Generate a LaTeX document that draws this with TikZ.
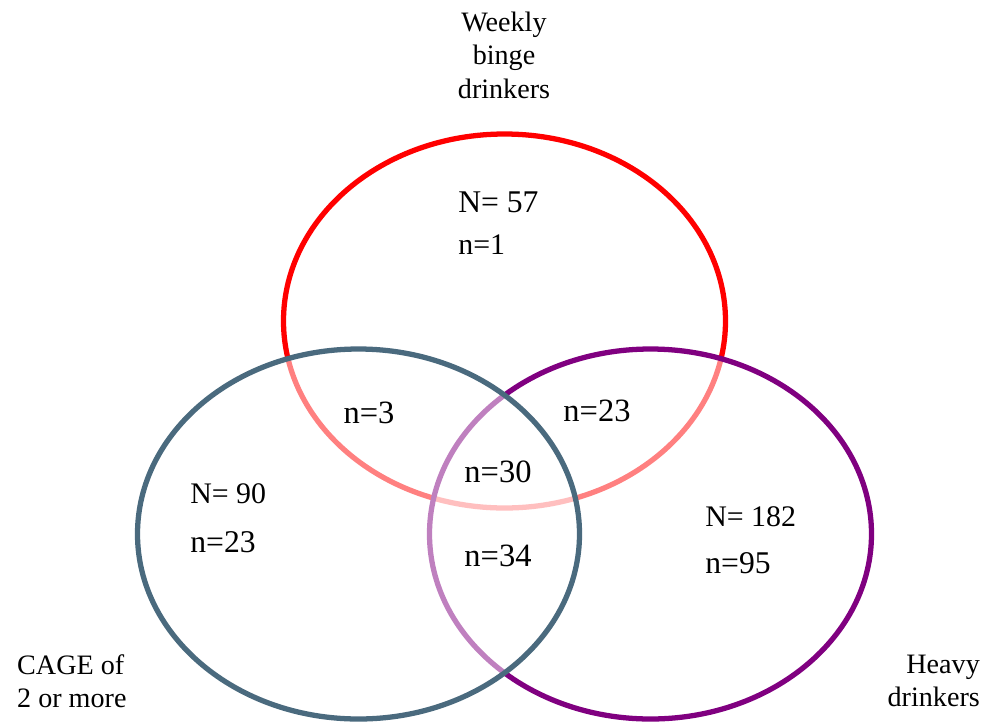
\documentclass[tikz,border=0pt]{standalone}
\usepackage{fontspec}
\setmainfont{Liberation Serif}
\usetikzlibrary{positioning}
\definecolor{bingered}{HTML}{FF0000}
\definecolor{cageblue}{HTML}{4A6A7E}
\definecolor{heavypurple}{HTML}{800080}

\begin{document}
\begin{tikzpicture}[
        x=0.02cm, y=-0.02cm,
        set/.style={line width=3pt, fill=white, fill opacity=0.5, draw opacity=1},
        title/.style={font=\fontsize{16}{19}\selectfont, align=center},
        count/.style={font=\fontsize{17}{20}\selectfont, anchor=west, inner sep=0pt},
        big/.style={font=\fontsize{18}{20}\selectfont, anchor=west, inner sep=0pt},
        cell/.style={font=\fontsize{18.5}{20}\selectfont, inner sep=0pt}
      ]
        \useasboundingbox (0,0) rectangle (987,724);

        % the three sets, bottom to top
        \draw[set, draw=bingered] (504.5,321) ellipse [x radius=221, y radius=187];
        \draw[set, draw=heavypurple] (650.5,534) ellipse [x radius=221, y radius=185];
        \draw[set, draw=cageblue] (358.5,534) ellipse [x radius=221, y radius=185];

        % set titles
        \node[title] (binge) at (504,55) {Weekly\\binge\\drinkers};
        \node[title, align=left, anchor=west] (cage) at (11,681) {CAGE of\\2 or more};
        \node[title, align=right, anchor=east] (heavy) at (986,681) {Heavy\\drinkers};

        % totals and counts
        \node[big] (bingeN) at (458,202) {N= 57};
        \node[count] (bingen) at (458,245) {n=1};
        \node[count] (cageN) at (190,494) {N= 90};
        \node[big] (cagen) at (190,542) {n=23};
        \node[count] (heavyN) at (705,517) {N= 182};
        \node[big] (heavyn) at (705,563) {n=95};

        % overlaps
        \node[cell] (bc) at (369,413) {n=3};
        \node[cell] (bh) at (597,411) {n=23};
        \node[cell] (all) at (498,472) {n=30};
        \node[cell] (ch) at (498,556) {n=34};
    \end{tikzpicture}
\end{document}
